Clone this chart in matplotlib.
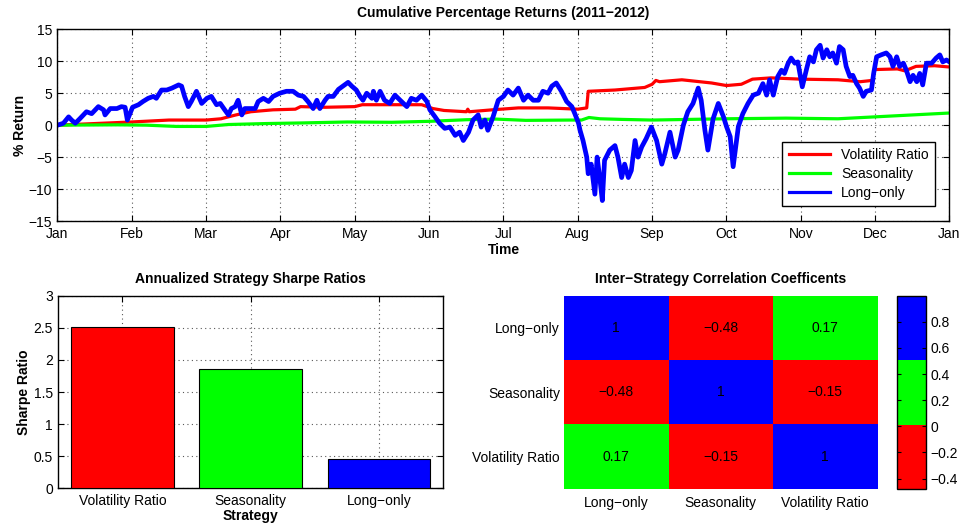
import matplotlib
matplotlib.use("Agg")
import matplotlib.pyplot as plt
from matplotlib.colors import ListedColormap
import numpy as np

plt.rcParams['font.family'] = ['Liberation Sans', 'DejaVu Sans']
plt.rcParams['font.size'] = 10

# ---------------- data ----------------
month_labels = ['Jan', 'Feb', 'Mar', 'Apr', 'May', 'Jun', 'Jul', 'Aug',
                'Sep', 'Oct', 'Nov', 'Dec', 'Jan']

# Volatility Ratio cumulative % return (x in months since Jan 1)
vr_t = [0.00, 0.60, 1.00, 1.50, 2.00, 2.20, 2.40, 2.60, 2.90, 3.20, 3.27, 3.60,
        4.00, 4.10, 4.90, 5.05, 5.20, 5.50, 5.52, 5.54, 5.85, 6.20, 6.60, 7.00,
        7.12, 7.14, 7.50, 7.90, 8.00, 8.05, 8.10, 8.40, 8.80, 9.00, 9.20, 9.35,
        9.60, 10.00, 10.50, 10.80, 10.96, 10.99, 11.30, 11.40, 11.55, 11.80, 12.00]
vr_v = [0.0, 0.3, 0.5, 0.8, 0.8, 1.0, 1.6, 2.1, 2.4, 2.5, 2.9, 2.8,
        2.9, 3.2, 3.2, 2.6, 2.3, 2.1, 2.5, 2.1, 2.4, 2.7, 2.7, 2.5,
        2.7, 5.3, 5.5, 5.9, 6.4, 7.0, 6.8, 7.1, 6.6, 6.2, 6.4, 7.2,
        7.4, 7.2, 7.1, 6.8, 7.0, 8.7, 8.8, 8.5, 9.2, 9.3, 9.1]

# Seasonality cumulative % return
se_t = [0.0, 0.8, 1.2, 1.6, 2.0, 2.3, 2.8, 3.3, 3.9, 4.5, 5.0, 5.5, 5.9, 6.3,
        6.9, 7.05, 7.15, 7.3, 7.6, 8.0, 8.5, 9.0, 9.8, 10.5, 11.0, 11.5, 12.0]
se_v = [0.0, 0.05, 0.0, -0.2, -0.2, 0.1, 0.25, 0.35, 0.5, 0.45, 0.6, 0.85, 0.95, 0.75,
        0.8, 0.8, 1.2, 1.0, 0.9, 0.8, 0.9, 1.0, 1.1, 1.0, 1.3, 1.6, 1.9]

# Long-only cumulative % return
lo_t = [0.00, 0.08, 0.15, 0.19, 0.24, 0.30, 0.39, 0.46, 0.55, 0.62, 0.64, 0.71,
        0.80, 0.86, 0.91, 0.94, 1.01, 1.09, 1.15, 1.22, 1.29, 1.33, 1.40, 1.47,
        1.54, 1.63, 1.67, 1.71, 1.76, 1.80, 1.87, 1.94, 2.01, 2.07, 2.14, 2.19,
        2.25, 2.30, 2.34, 2.39, 2.43, 2.48, 2.52, 2.59, 2.66, 2.70, 2.77, 2.84,
        2.90, 2.99, 3.08, 3.17, 3.24, 3.31, 3.37, 3.44, 3.49, 3.53, 3.60, 3.64,
        3.71, 3.78, 3.84, 3.91, 3.96, 4.02, 4.07, 4.11, 4.16, 4.23, 4.25, 4.29,
        4.34, 4.40, 4.47, 4.54, 4.61, 4.70, 4.76, 4.83, 4.90, 4.97, 5.01, 5.08,
        5.14, 5.21, 5.28, 5.35, 5.41, 5.46, 5.53, 5.59, 5.66, 5.70, 5.75, 5.79,
        5.86, 5.93, 6.00, 6.06, 6.13, 6.20, 6.27, 6.33, 6.40, 6.47, 6.53, 6.60,
        6.65, 6.71, 6.78, 6.85, 6.92, 6.96, 7.01, 7.03, 7.07, 7.12, 7.14, 7.18,
        7.23, 7.26, 7.30, 7.33, 7.36, 7.43, 7.50, 7.54, 7.59, 7.63, 7.68, 7.72,
        7.77, 7.81, 7.86, 7.92, 7.99, 8.06, 8.13, 8.17, 8.24, 8.31, 8.35, 8.42,
        8.48, 8.55, 8.62, 8.66, 8.71, 8.75, 8.82, 8.89, 8.96, 9.00, 9.05, 9.09,
        9.16, 9.22, 9.29, 9.36, 9.43, 9.49, 9.54, 9.58, 9.63, 9.69, 9.74, 9.78,
        9.83, 9.87, 9.92, 9.96, 10.02, 10.08, 10.12, 10.17, 10.21, 10.26, 10.30, 10.35,
        10.39, 10.43, 10.48, 10.52, 10.57, 10.61, 10.66, 10.70, 10.75, 10.79, 10.84, 10.88,
        10.95, 10.98, 11.02, 11.08, 11.15, 11.20, 11.24, 11.29, 11.33, 11.38, 11.42, 11.47,
        11.51, 11.56, 11.60, 11.64, 11.69, 11.76, 11.82, 11.87, 11.91, 11.96, 12.00]
lo_v = [0.0, 0.3, 1.3, 0.8, 0.3, 1.0, 2.1, 1.8, 2.9, 2.4, 1.6, 2.6,
        2.6, 2.9, 2.8, 0.8, 2.8, 3.2, 3.7, 4.2, 4.5, 4.2, 5.5, 5.5,
        5.8, 6.3, 6.1, 4.5, 2.9, 3.7, 5.3, 3.4, 4.2, 4.5, 3.2, 3.4,
        2.4, 1.6, 2.6, 2.9, 3.9, 1.6, 2.6, 2.6, 2.6, 3.7, 4.2, 3.7,
        4.5, 5.0, 5.3, 5.3, 4.7, 4.5, 3.7, 2.6, 3.9, 2.6, 3.9, 4.5,
        4.5, 5.6, 6.1, 6.7, 6.1, 5.5, 4.5, 3.9, 5.0, 4.2, 5.3, 3.9,
        5.3, 3.9, 3.4, 4.7, 3.9, 2.9, 4.2, 3.9, 4.7, 3.7, 2.4, 1.3,
        0.3, -0.5, -0.3, -1.6, -1.1, -2.4, -1.1, 0.8, 1.6, -0.3, 0.8, -0.8,
        1.3, 3.9, 4.5, 5.5, 4.7, 5.8, 3.9, 4.7, 3.9, 3.9, 5.3, 5.0,
        6.1, 6.6, 5.3, 3.7, 2.9, 1.8, 0.3, -0.8, -2.4, -5.0, -7.6, -6.1,
        -10.8, -5.0, -8.7, -11.8, -5.5, -3.9, -3.2, -5.0, -8.2, -6.1, -8.2, -7.1,
        -2.4, -5.0, -3.4, -2.1, -0.3, -2.4, -6.1, -4.5, -1.1, -5.0, -3.9, 0.0,
        2.1, 3.4, 5.8, 3.9, -0.8, -3.9, 1.0, 3.4, 1.3, -0.2, -1.8, -6.5,
        -0.2, 1.8, 3.4, 4.7, 5.0, 6.5, 4.7, 7.1, 4.7, 7.6, 8.6, 8.1,
        9.7, 10.5, 9.7, 9.9, 6.0, 8.9, 10.7, 9.9, 11.8, 12.5, 10.5, 11.8,
        10.7, 11.3, 9.7, 12.3, 11.8, 9.2, 7.6, 7.8, 6.5, 5.8, 4.5, 5.3,
        5.5, 8.1, 10.7, 11.0, 11.3, 10.7, 9.2, 10.7, 9.2, 9.7, 8.6, 6.8,
        7.8, 6.8, 8.1, 6.3, 9.7, 9.7, 10.5, 11.0, 9.9, 10.2, 9.9]

strategies = ['Volatility Ratio', 'Seasonality', 'Long\u2212only']
sharpe = [2.51, 1.86, 0.45]
bar_colors = ['#ff0000', '#00ff00', '#0000ff']

corr_labels = ['Long\u2212only', 'Seasonality', 'Volatility Ratio']
corr = [[1.00, -0.48, 0.17],
        [-0.48, 1.00, -0.15],
        [0.17, -0.15, 1.00]]
corr_text = [['1', '\u22120.48', '0.17'],
             ['\u22120.48', '1', '\u22120.15'],
             ['0.17', '\u22120.15', '1']]

# ---------------- figure ----------------
fig = plt.figure(figsize=(9.61, 5.29), dpi=100)

grid_kw = dict(color='0.35', linestyle=(0, (1, 3)), linewidth=0.8)

def style_axes(ax):
    ax.tick_params(direction='in', top=True, right=True, length=4, width=0.8,
                   labelsize=10, pad=4)
    for s in ax.spines.values():
        s.set_linewidth(1.0)
        s.set_color('black')

# Top panel
ax1 = fig.add_axes([0.0598, 0.5822, 0.9282, 0.3624])
ax1.plot(vr_t, vr_v, color='#ff0000', lw=2.3, label='Volatility Ratio', solid_joinstyle='round')
ax1.plot(se_t, se_v, color='#00ff00', lw=2.3, label='Seasonality', solid_joinstyle='round')
ax1.plot(lo_t, lo_v, color='#0000ff', lw=3.4, label='Long\u2212only', solid_joinstyle='round')
ax1.set_xlim(0, 12)
ax1.set_ylim(-15, 15)
ax1.set_xticks(range(13))
ax1.set_xticklabels(month_labels)
ax1.set_yticks(range(-15, 16, 5))
ax1.grid(True, **grid_kw)
style_axes(ax1)
ax1.set_title('Cumulative Percentage Returns (2011\u22122012)', fontweight='bold',
              fontsize=10, pad=9)
ax1.set_xlabel('Time', fontweight='bold', fontsize=10, labelpad=2)
ax1.set_ylabel('% Return', fontweight='bold', fontsize=10, labelpad=1)
leg = ax1.legend(loc='lower right', bbox_to_anchor=(0.984, 0.078), borderaxespad=0,
                 fancybox=False, framealpha=1, edgecolor='black', handlelength=3.0,
                 fontsize=10, labelspacing=0.35, borderpad=0.45)
leg.get_frame().set_linewidth(1.0)
for h in leg.get_lines():
    h.set_linewidth(2.3)

# Bar panel
ax2 = fig.add_axes([0.0607, 0.0769, 0.4006, 0.3640])
xpos = np.arange(1, len(strategies) + 1)
ax2.bar(xpos, sharpe, width=0.8, color=bar_colors, edgecolor='black', linewidth=0.8, zorder=3)
ax2.set_xlim(0.5, 3.5)
ax2.set_ylim(0, 3)
ax2.set_xticks(xpos)
ax2.set_xticklabels(strategies)
ax2.set_yticks(np.arange(0, 3.01, 0.5))
ax2.set_yticklabels(['0', '0.5', '1', '1.5', '2', '2.5', '3'])
ax2.grid(True, **grid_kw)
style_axes(ax2)
ax2.set_title('Annualized Strategy Sharpe Ratios', fontweight='bold', fontsize=10, pad=9)
ax2.set_xlabel('Strategy', fontweight='bold', fontsize=10, labelpad=1)
ax2.set_ylabel('Sharpe Ratio', fontweight='bold', fontsize=10, labelpad=2)

# Heatmap panel
ax3 = fig.add_axes([0.5869, 0.0756, 0.3260, 0.3654])
cmap = ListedColormap(['#ff0000', '#00ff00', '#0000ff'])
im = ax3.imshow(np.array(corr), cmap=cmap, vmin=-0.48, vmax=1.0, aspect='auto',
                interpolation='nearest')
for i in range(3):
    for j in range(3):
        ax3.text(j, i, corr_text[i][j], ha='center', va='center', fontsize=10, color='black')
ax3.set_xticks(range(3))
ax3.set_xticklabels(corr_labels)
ax3.set_yticks(range(3))
ax3.set_yticklabels(corr_labels)
ax3.tick_params(axis='y', length=0, labelsize=10, pad=3)
ax3.tick_params(axis='x', length=0, labelsize=10, pad=5)
for s in ax3.spines.values():
    s.set_visible(False)
ax3.set_title('Inter\u2212Strategy Correlation Coefficents', fontweight='bold', fontsize=10, pad=9)

cax = fig.add_axes([0.9337, 0.0756, 0.0296, 0.3654])
cb = fig.colorbar(im, cax=cax)
cb.set_ticks([-0.4, -0.2, 0, 0.2, 0.4, 0.6, 0.8])
cb.set_ticklabels(['\u22120.4', '\u22120.2', '0', '0.2', '0.4', '0.6', '0.8'])
cax.tick_params(direction='in', left=True, right=True, length=3, width=0.8, labelsize=10)
cb.outline.set_linewidth(1.0)
cb.outline.set_edgecolor('black')

fig.savefig('out.png', dpi=100)
